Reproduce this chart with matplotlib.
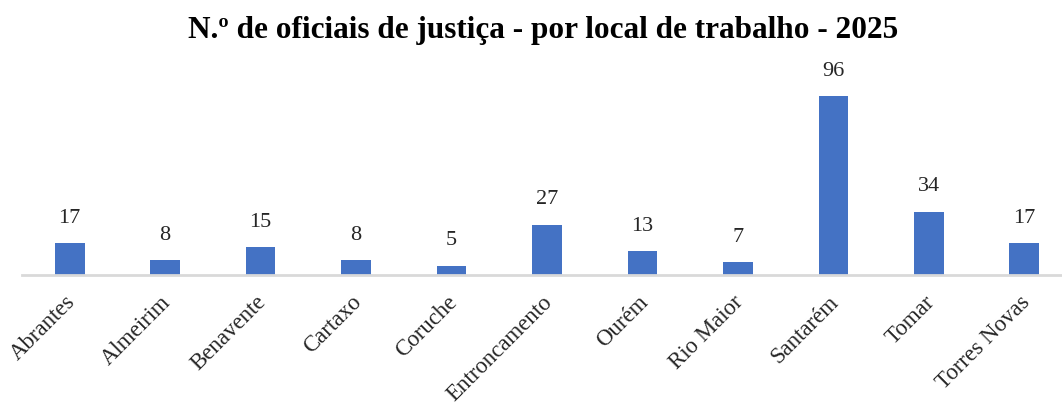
import matplotlib
matplotlib.use("Agg")
import matplotlib.pyplot as plt
import matplotlib.transforms as mtransforms
import numpy as np

# dados
locais = ['Abrantes', 'Almeirim', 'Benavente', 'Cartaxo', 'Coruche', 'Entroncamento',
          'Ourém', 'Rio Maior', 'Santarém', 'Tomar', 'Torres Novas']
oficiais = [17, 8, 15, 8, 5, 27, 13, 7, 96, 34, 17]

plt.rcParams['font.family'] = ['Liberation Serif', 'DejaVu Serif']

fig = plt.figure(figsize=(10.62, 4.09), dpi=100)
# eixo ligeiramente maior que a figura, como no original (corta à direita)
ax = fig.add_axes([22 / 1062, (409 - 275) / 409, 1050 / 1062, 214 / 409])

x = np.arange(len(locais))
bars = ax.bar(x, oficiais, width=0.31, color='#4472C4', zorder=2)

for xi, v in zip(x, oficiais):
    ax.annotate(str(v), (xi, v), xytext=(0, 11), textcoords='offset points',
                ha='center', va='bottom', fontsize=16, color='#262626')

ax.set_xlim(-0.5, len(locais) - 0.5)
ax.set_ylim(0, 115)
ax.set_xticks(x)
ax.set_xticklabels(locais, rotation=45, ha='right', rotation_mode='anchor',
                   fontsize=16.5, color='#262626')
ax.tick_params(axis='x', length=0, pad=12)
ax.set_yticks([])

# desloca um pouco os rótulos para a esquerda
desloc = mtransforms.ScaledTranslation(-5 / 100, 0, fig.dpi_scale_trans)
for lbl in ax.get_xticklabels():
    lbl.set_transform(lbl.get_transform() + desloc)

for s in ['top', 'right', 'left']:
    ax.spines[s].set_visible(False)
ax.spines['bottom'].set_color('#D9D9D9')
ax.spines['bottom'].set_linewidth(2)

fig.text(0.511, 0.925, 'N.º de oficiais de justiça - por local de trabalho - 2025',
         ha='center', va='center', fontsize=22.5, fontweight='bold', color='#000000')

fig.savefig('out.png', dpi=100)
